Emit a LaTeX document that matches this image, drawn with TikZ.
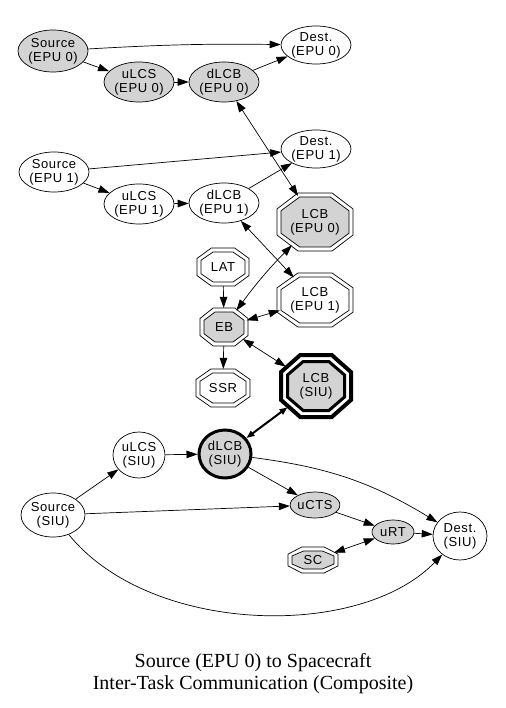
\documentclass[tikz,border=0pt]{standalone}
\usepackage{fontspec}
\newfontfamily\lsans[LetterSpace=5]{Liberation Sans}
\newfontfamily\lserif{Liberation Serif}
\usetikzlibrary{shapes.geometric,arrows.meta}
\definecolor{gfill}{RGB}{211,211,211}
\newcommand\octshape[2]{({(#1)},{0.45*(#2)}) -- ({0.45*(#1)},{(#2)}) -- ({-0.45*(#1)},{(#2)}) -- ({-(#1)},{0.45*(#2)}) -- ({-(#1)},{-0.45*(#2)}) -- ({-0.45*(#1)},{-(#2)}) -- ({0.45*(#1)},{-(#2)}) -- ({(#1)},{-0.45*(#2)}) -- cycle}
\newcommand\octnode[7]{%
  \draw[octline,fill=white,shift={(#2,#3)}] \octshape{#4}{#5};
  \draw[octline,fill=#6,shift={(#2,#3)}] \octshape{#4-4}{#5-4};
  \node[octanchor,minimum width=2*#4,minimum height=2*#5] (#1) at (#2,#3) {#7};}
\begin{document}
\begin{tikzpicture}[x=1pt,y=-1pt,
  lab/.style={font=\lsans\fontsize{13}{14}\selectfont,align=center},
  ell/.style={ellipse,draw,line width=0.7pt,inner sep=0pt,lab},
  grey/.style={fill=gfill},
  octline/.style={line width=0.7pt},
  octanchor/.style={ellipse,inner sep=0pt,lab},
  tip/.style={>={Triangle[length=11pt,width=7.5pt]}},
  edge/.style={draw,line width=0.7pt,tip,->},
  bi/.style={draw,line width=0.7pt,tip,<->},
  thickbi/.style={draw,line width=2pt,>={Triangle[length=8pt,width=6pt]},<->}]
\useasboundingbox (0,0) rectangle (505,708);
% EPU 0 row
\node[ell,grey,minimum width=66,minimum height=42] (S0) at (53,51) {Source\\(EPU 0)};
\node[ell,minimum width=66,minimum height=38] (D0) at (316,45) {Dest.\\(EPU 0)};
\node[ell,grey,minimum width=66,minimum height=40] (U0) at (139,82) {uLCS\\(EPU 0)};
\node[ell,grey,minimum width=66,minimum height=40] (B0) at (224,82) {dLCB\\(EPU 0)};
% EPU 1 row
\node[ell,minimum width=64,minimum height=40] (S1) at (54,172) {Source\\(EPU 1)};
\node[ell,minimum width=64,minimum height=38] (D1) at (316,149) {Dest.\\(EPU 1)};
\node[ell,minimum width=64,minimum height=40] (U1) at (139,204) {uLCS\\(EPU 1)};
\node[ell,minimum width=64,minimum height=40] (B1) at (224,203) {dLCB\\(EPU 1)};
% octagons
\octnode{L0}{315}{222}{38}{29}{gfill}{LCB\\(EPU 0)}
\octnode{L1}{315}{300}{38}{27}{white}{LCB\\(EPU 1)}
\octnode{LAT}{223}{267}{26}{19}{white}{LAT}
\octnode{EB}{224}{327}{24}{19}{gfill}{EB}
\octnode{SSR}{223}{388}{27}{19}{white}{SSR}
\octnode{SC}{313}{560}{25}{13}{gfill}{SC}
% LCB SIU (bold)
\draw[line width=4pt,fill=white,shift={(316,386)}] \octshape{35}{31};
\draw[line width=3pt,fill=gfill,shift={(316,386)}] \octshape{28.5}{24.5};
\node[octanchor,minimum width=74,minimum height=66] (LS) at (316,386) {LCB\\(SIU)};
% SIU row
\node[ell,minimum width=52,minimum height=46] (US) at (139,455) {uLCS\\(SIU)};
\node[ell,grey,line width=3pt,minimum width=52,minimum height=48] (BS) at (225,454) {dLCB\\(SIU)};
\node[ell,minimum width=64,minimum height=44] (SS) at (53,515) {Source\\(SIU)};
\node[ell,grey,minimum width=46,minimum height=26] (CT) at (315,505) {uCTS};
\node[ell,grey,minimum width=42,minimum height=24] (RT) at (393,532) {uRT};
\node[ell,minimum width=54,minimum height=48] (DS) at (460,536) {Dest.\\(SIU)};
% caption
\node[font=\lserif\fontsize{20}{22}\selectfont,align=center] (cap) at (253,674)
  {Source (EPU 0) to Spacecraft\\Inter-Task Communication (Composite)};
% edges EPU 0
\path[edge] (S0) to[bend left=2] (D0);
\path[edge] (S0) -- (U0);
\path[edge] (U0) -- (B0);
\path[edge] (B0) -- (D0);
\path[bi] (B0) -- (L0);
% edges EPU 1
\path[edge] (S1) -- (D1);
\path[edge] (S1) -- (U1);
\path[edge] (U1) -- (B1);
\path[edge] (B1) -- (D1);
\path[bi] (B1) -- (L1);
% EB cluster
\path[edge] (LAT) -- (EB);
\path[edge] (EB) -- (SSR);
\path[bi] (EB) to[bend left=4] (L0);
\path[bi] (EB) -- (L1);
\path[bi] (EB) -- (LS);
\path[thickbi] (BS) -- (LS);
% SIU
\path[edge] (SS) -- (US);
\path[edge] (US) -- (BS);
\path[edge] (BS) -- (CT);
\path[edge] (BS) to[bend left=12] (DS);
\path[edge] (SS) -- (CT);
\path[edge] (CT) -- (RT);
\path[edge] (RT) -- (DS);
\path[bi] (SC) -- (RT);
\path[edge] (SS) .. controls (150,635) and (360,640) .. (DS);
\end{tikzpicture}
\end{document}
